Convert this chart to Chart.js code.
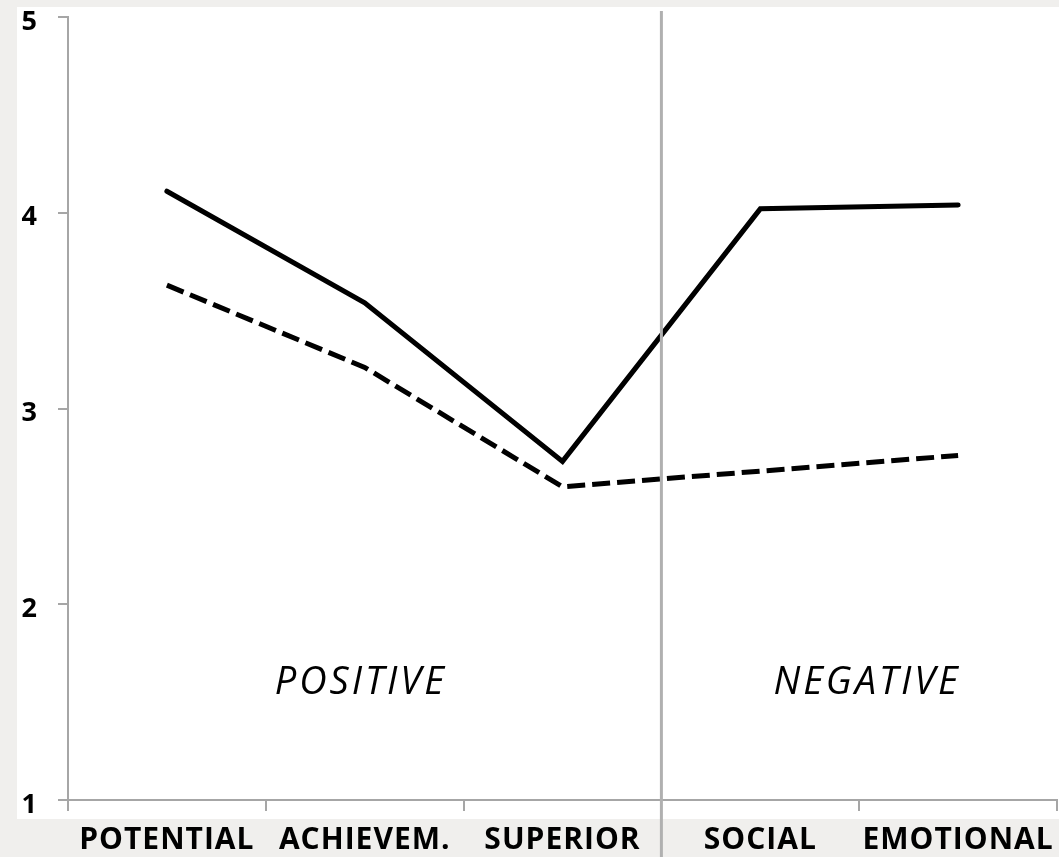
<!DOCTYPE html>
<html>
<head>
<meta charset="utf-8">
<script src="https://cdn.jsdelivr.net/npm/chart.js@4/dist/chart.umd.min.js"></script>
<style>
  body { margin: 0; background: #f0efed; }
  canvas { display: block; }
</style>
</head>
<body>
<canvas id="myChart" width="1059" height="857"></canvas>
<script>
const categories = ['POTENTIAL', 'ACHIEVEM.', 'SUPERIOR', 'SOCIAL', 'EMOTIONAL'];
const solidSeries = [4.11, 3.54, 2.73, 4.02, 4.04];
const dashedSeries = [3.63, 3.21, 2.60, 2.68, 2.76];
const yTicks = [1, 2, 3, 4, 5];
const groupLabels = ['POSITIVE', 'NEGATIVE'];
const groupPos = [0.98, 3.54];   // category index of each group label
const groupY = 1.54;
const splitAt = 2.5;             // between SUPERIOR and SOCIAL

const backdrop = {
    id: 'backdrop',
    beforeDraw: (chart) => {
        const ctx = chart.ctx;
        ctx.save();
        ctx.fillStyle = '#f0efed';
        ctx.fillRect(0, 0, chart.width, chart.height);
        ctx.fillStyle = '#ffffff';
        ctx.fillRect(17, 7, chart.width - 17, 812);
        ctx.restore();
        ctx.letterSpacing = '1px';
    },
    afterDatasetsDraw: (chart) => {
        const ctx = chart.ctx;
        const x = chart.scales.x.getPixelForValue(splitAt);
        ctx.save();
        ctx.strokeStyle = '#b0b0b0';
        ctx.lineWidth = 3;
        ctx.beginPath();
        ctx.moveTo(x, 11);
        ctx.lineTo(x, chart.height);
        ctx.stroke();

        ctx.fillStyle = '#000';
        ctx.font = 'italic 38px "Open Sans"';
        ctx.letterSpacing = '3px';
        ctx.textAlign = 'center';
        ctx.textBaseline = 'alphabetic';
        groupLabels.forEach((label, i) => {
            ctx.fillText(label, chart.scales.x.getPixelForValue(groupPos[i]), chart.scales.y.getPixelForValue(groupY));
        });
        ctx.restore();
    }
};

let context = document.getElementById('myChart');
let chart = new Chart(context, {
    type: 'line',
    data: {
        labels: categories,
        datasets: [
            {
                label: 'Solid',
                data: solidSeries,
                borderColor: '#000',
                borderWidth: 5,
                borderCapStyle: 'round',
                fill: false,
                tension: 0,
                pointRadius: 0
            },
            {
                label: 'Dashed',
                data: dashedSeries,
                borderColor: '#000',
                borderWidth: 5,
                borderDash: [18, 7],
                borderCapStyle: 'butt',
                fill: false,
                tension: 0,
                pointRadius: 0
            }
        ]
    },
    options: {
        responsive: false,
        animation: false,
        layout: { padding: { top: 17, right: 2, left: 0, bottom: 0 } },
        plugins: {
            legend: { display: false },
            tooltip: { enabled: false }
        },
        scales: {
            x: {
                offset: true,
                grid: { offset: true, drawOnChartArea: false, color: '#a6a6a6', lineWidth: 2, tickLength: 11 },
                border: { color: '#a6a6a6', width: 2 },
                ticks: {
                    color: '#000',
                    padding: 11,
                    maxRotation: 0,
                    autoSkip: false,
                    font: { family: 'Open Sans', size: 30, weight: 'bold' }
                },
                afterFit: (scale) => {
                    scale.height = 57;
                    scale.paddingLeft = 0;
                    scale.paddingRight = 0;
                }
            },
            y: {
                min: 1,
                max: 5,
                afterBuildTicks: (scale) => {
                    scale.ticks = yTicks.map(v => ({ value: v }));
                },
                grid: { drawOnChartArea: false, color: '#a6a6a6', lineWidth: 2, tickLength: 10 },
                border: { color: '#a6a6a6', width: 2 },
                ticks: {
                    color: '#000',
                    padding: 20,
                    labelOffset: 5,
                    font: { family: 'Open Sans', size: 27, weight: 'bold' }
                },
                afterFit: (scale) => {
                    scale.width = 68;
                    scale.paddingTop = 0;
                    scale.paddingBottom = 0;
                }
            }
        }
    },
    plugins: [backdrop]
});
</script>
</body>
</html>
